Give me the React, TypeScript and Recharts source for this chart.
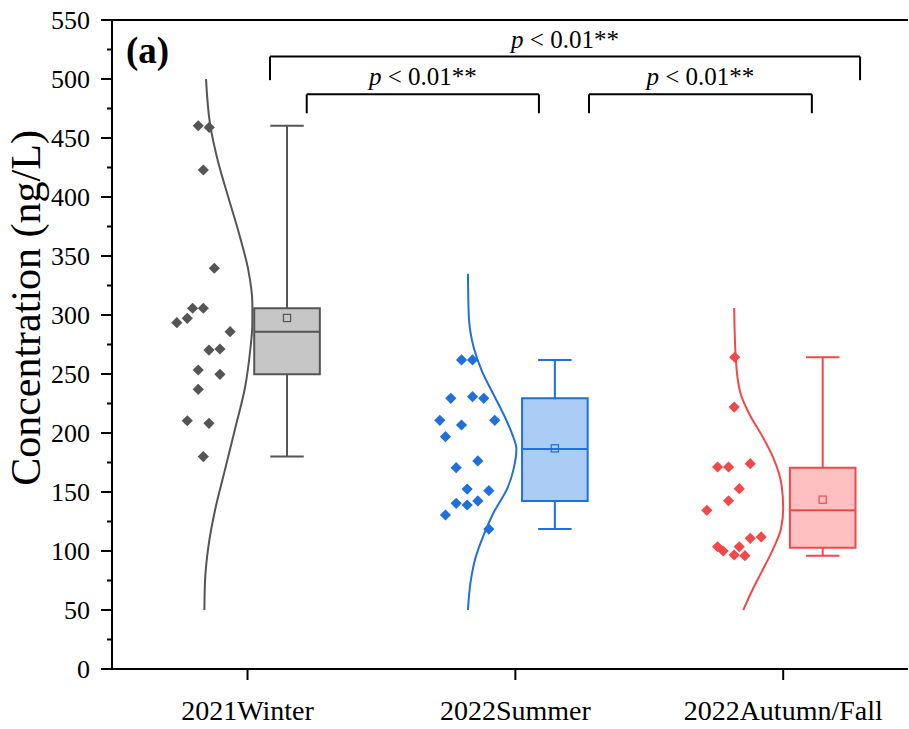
import React from 'react'
import { ComposedChart, Line, ReferenceArea, ReferenceLine, Scatter, XAxis, YAxis } from 'recharts'

const FONT = '"Liberation Serif", "Times New Roman", serif'

const categories = ['2021Winter', '2022Summer', '2022Autumn/Fall']
const yTicks = [0, 25, 50, 75, 100, 125, 150, 175, 200, 225, 250, 275, 300, 325, 350, 375, 400, 425, 450, 475, 500, 525, 550]

// raw samples (ng/L) with the horizontal jitter used in the plot
const winterValues = [460.4, 459, 422.9, 339.6, 305.7, 305.7, 293.5, 297.2, 285.9, 270.3, 271.2, 253.4, 249.7, 237, 210.4, 208.2, 180]
const winterJitter = [-0.184, -0.143, -0.165, -0.124, -0.205, -0.165, -0.264, -0.225, -0.065, -0.144, -0.103, -0.184, -0.103, -0.184, -0.225, -0.144, -0.165]
const summerValues = [261.9, 261.9, 229.4, 230.8, 229.4, 210.7, 206.8, 210.7, 196.9, 176.3, 170.6, 152.5, 151.1, 140.4, 139, 142.4, 130.5, 118.6]
const summerJitter = [-0.201, -0.16, -0.241, -0.16, -0.118, -0.282, -0.201, -0.077, -0.261, -0.14, -0.221, -0.18, -0.099, -0.221, -0.18, -0.14, -0.261, -0.099]
const autumnValues = [264.2, 222, 171.2, 171.2, 174, 152.8, 142.6, 134.5, 110.7, 111.9, 103.6, 100, 103.6, 96.6, 96]
const autumnJitter = [-0.181, -0.183, -0.245, -0.204, -0.123, -0.164, -0.204, -0.285, -0.123, -0.082, -0.245, -0.224, -0.164, -0.183, -0.143]

// distribution curves: value and horizontal offset from the category
const winterCurveY = [500, 462, 429, 400, 366, 338, 310, 293, 268, 239, 203, 169, 135, 104, 73, 50]
const winterCurveX = [-0.155, -0.14, -0.109, -0.072, -0.028, 0.003, 0.018, 0.018, 0.009, -0.009, -0.047, -0.084, -0.121, -0.146, -0.159, -0.161]
const summerCurveY = [335, 300, 272, 252, 232, 212.5, 195.5, 187, 170, 153, 133, 113.6, 94, 74, 50]
const summerCurveX = [-0.177, -0.174, -0.155, -0.124, -0.08, -0.037, -0.006, 0.004, -0.006, -0.03, -0.08, -0.118, -0.149, -0.167, -0.177]
const autumnCurveY = [306, 263, 235, 215, 198, 179, 156, 136, 119, 102, 82.5, 65.5, 50]
const autumnCurveX = [-0.183, -0.177, -0.161, -0.124, -0.08, -0.037, -0.006, 0, -0.008, -0.037, -0.08, -0.118, -0.149]

// box plot statistics
const boxQ1 = [249.7, 142.4, 102.8]
const boxMedian = [285.9, 186.4, 134.5]
const boxQ3 = [305.7, 229.4, 170.6]
const whiskerLow = [180, 118.6, 96]
const whiskerHigh = [460.4, 261.9, 264.2]
const boxMean = [297.5, 187, 143.5]

// significance brackets
const bracketFrom = [1.084, 1.221, 2.275]
const bracketTo = [3.287, 2.088, 3.107]
const bracketTop = [519, 487, 487]
const bracketFoot = [499, 471, 471]
const bracketP = ['0.01**', '0.01**', '0.01**']

const BOX_LEFT = 0.025
const BOX_WIDTH = 0.245
const CAP_WIDTH = 0.125

const groups = [
  { values: winterValues, jitter: winterJitter, curveY: winterCurveY, curveX: winterCurveX, color: '#555555', fill: '#c6c6c6' },
  { values: summerValues, jitter: summerJitter, curveY: summerCurveY, curveX: summerCurveX, color: '#1f6fdc', fill: '#abcdf5' },
  { values: autumnValues, jitter: autumnJitter, curveY: autumnCurveY, curveX: autumnCurveX, color: '#f24848', fill: '#fec0c0' },
]

function Diamond(props: any) {
  const { cx, cy, fill } = props
  const r = 5.6
  return <polygon points={`${cx},${cy - r} ${cx + r},${cy} ${cx},${cy + r} ${cx - r},${cy}`} fill={fill} />
}

function MeanSquare(props: any) {
  const { cx, cy, stroke } = props
  return <rect x={cx - 3.6} y={cy - 3.6} width={7.2} height={7.2} fill="none" stroke={stroke} strokeWidth={1.2} />
}

function BracketText(props: any) {
  const { cx, cy, payload } = props
  return (
    <text x={cx} y={cy - 9} textAnchor="middle" fontSize={25} fontFamily={FONT} fill="#000">
      <tspan fontStyle="italic">p</tspan> {'< '}{payload.p}
    </text>
  )
}

function YTick(props: any) {
  const { x, y, payload } = props
  const major = payload.value % 50 === 0
  return (
    <g>
      <line x1={x} x2={x - (major ? 11 : 5)} y1={y} y2={y} stroke="#000" strokeWidth={2} />
      {major && (
        <text x={x - 22} y={y} dy="0.34em" textAnchor="end" fontSize={26} fontFamily={FONT} fill="#000">
          {payload.value}
        </text>
      )}
    </g>
  )
}

export default function App() {
  const lineStyle = { stroke: '#000', strokeWidth: 2 }

  return (
    <div style={{ position: 'absolute', left: 0, top: 0, background: '#fff' }}>
      <ComposedChart width={909} height={729} margin={{ top: 20, right: 1, bottom: 20, left: 32 }}>
        <XAxis
          type="number"
          dataKey="x"
          domain={[0.494, 3.466]}
          ticks={[1, 2, 3]}
          interval={0}
          allowDataOverflow
          tickFormatter={(v: number) => categories[v - 1]}
          height={40}
          tickSize={11}
          tickMargin={20}
          axisLine={lineStyle}
          tickLine={lineStyle}
          tick={{ fontSize: 28, fill: '#000', fontFamily: FONT }}
        />
        <YAxis
          type="number"
          domain={[0, 550]}
          ticks={yTicks}
          interval={0}
          allowDataOverflow
          width={80}
          tickSize={0}
          tickMargin={0}
          axisLine={lineStyle}
          tickLine={false}
          tick={<YTick />}
          label={{
            content: () => (
              <text x={40} y={308} transform="rotate(-90, 40, 308)" textAnchor="middle" fontSize={42} fontFamily={FONT} fill="#000">
                Concentration (ng/L)
              </text>
            ),
          }}
        />
        <ReferenceLine y={550} stroke="#000" strokeWidth={2} />

        {groups.map((g, i) => {
          const c = i + 1
          const mid = c + BOX_LEFT + BOX_WIDTH / 2
          return [
            <ReferenceLine key={`wh${i}`} segment={[{ x: mid, y: boxQ3[i] }, { x: mid, y: whiskerHigh[i] }]} stroke={g.color} strokeWidth={2} />,
            <ReferenceLine key={`wl${i}`} segment={[{ x: mid, y: boxQ1[i] }, { x: mid, y: whiskerLow[i] }]} stroke={g.color} strokeWidth={2} />,
            <ReferenceLine key={`ch${i}`} segment={[{ x: mid - CAP_WIDTH / 2, y: whiskerHigh[i] }, { x: mid + CAP_WIDTH / 2, y: whiskerHigh[i] }]} stroke={g.color} strokeWidth={2} />,
            <ReferenceLine key={`cl${i}`} segment={[{ x: mid - CAP_WIDTH / 2, y: whiskerLow[i] }, { x: mid + CAP_WIDTH / 2, y: whiskerLow[i] }]} stroke={g.color} strokeWidth={2} />,
            <ReferenceArea
              key={`box${i}`}
              x1={c + BOX_LEFT}
              x2={c + BOX_LEFT + BOX_WIDTH}
              y1={boxQ1[i]}
              y2={boxQ3[i]}
              fill={g.fill}
              fillOpacity={1}
              stroke={g.color}
              strokeWidth={2}
            />,
            <ReferenceLine key={`md${i}`} segment={[{ x: c + BOX_LEFT, y: boxMedian[i] }, { x: c + BOX_LEFT + BOX_WIDTH, y: boxMedian[i] }]} stroke={g.color} strokeWidth={2} />,
            <Line
              key={`curve${i}`}
              data={g.curveY.map((v, k) => ({ x: c + g.curveX[k], y: v }))}
              dataKey="y"
              type="monotoneY"
              stroke={g.color}
              strokeWidth={2}
              dot={false}
              activeDot={false}
              isAnimationActive={false}
            />,
            <Scatter
              key={`pts${i}`}
              data={g.values.map((v, k) => ({ x: c + g.jitter[k], y: v }))}
              dataKey="y"
              fill={g.color}
              shape={<Diamond />}
              isAnimationActive={false}
            />,
            <Scatter
              key={`mean${i}`}
              data={[{ x: mid, y: boxMean[i] }]}
              dataKey="y"
              shape={<MeanSquare stroke={g.color} />}
              isAnimationActive={false}
            />,
          ]
        })}

        {bracketFrom.map((from, i) => [
          <ReferenceLine key={`bl${i}`} segment={[{ x: from, y: bracketFoot[i] }, { x: from, y: bracketTop[i] }]} stroke="#000" strokeWidth={2} />,
          <ReferenceLine key={`bt${i}`} segment={[{ x: from, y: bracketTop[i] }, { x: bracketTo[i], y: bracketTop[i] }]} stroke="#000" strokeWidth={2} />,
          <ReferenceLine key={`br${i}`} segment={[{ x: bracketTo[i], y: bracketTop[i] }, { x: bracketTo[i], y: bracketFoot[i] }]} stroke="#000" strokeWidth={2} />,
        ])}
        <Scatter
          data={bracketFrom.map((from, i) => ({ x: (from + bracketTo[i]) / 2, y: bracketTop[i], p: bracketP[i] }))}
          dataKey="y"
          shape={<BracketText />}
          isAnimationActive={false}
        />

        <text x={126} y={63} fontSize={37} fontWeight="bold" fontFamily={FONT} fill="#000">
          (a)
        </text>
      </ComposedChart>
    </div>
  )
}
